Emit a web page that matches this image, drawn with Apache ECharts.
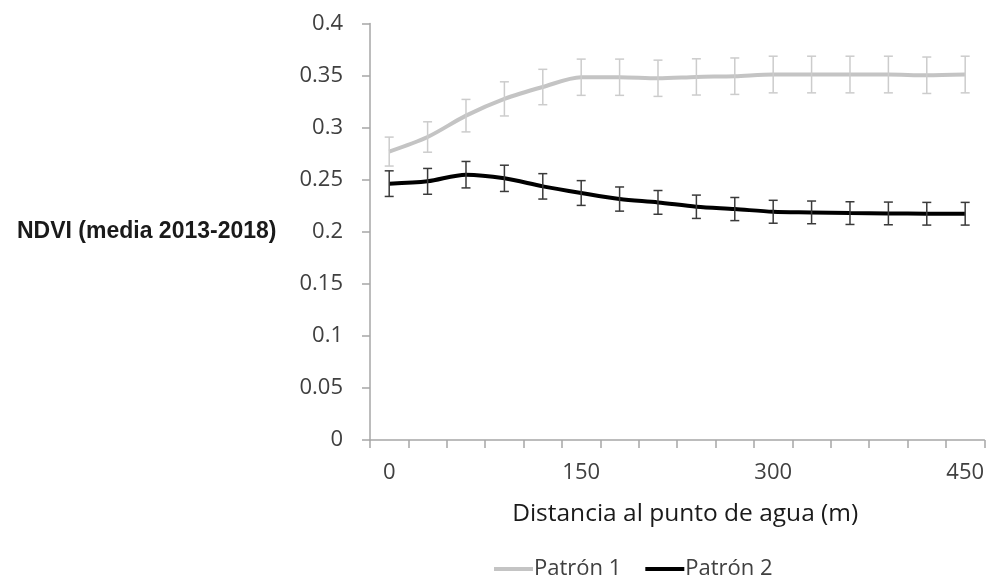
<!DOCTYPE html>
<html>
<head>
<meta charset="utf-8">
<script src="https://cdn.jsdelivr.net/npm/echarts@6/dist/echarts.min.js"></script>
<style>html,body{margin:0;padding:0;background:#fff;}#c{width:987px;height:578px;}</style>
</head>
<body>
<div id="c"></div>
<script>
var categories = ['0','30','60','90','120','150','180','210','240','270','300','330','360','390','420','450'];
var patron1 = [0.277,0.291,0.3115,0.3276,0.339,0.3484,0.3484,0.3474,0.3487,0.3494,0.351,0.351,0.351,0.351,0.3503,0.351];
var patron1Err = [0.0139,0.0146,0.0156,0.0164,0.0170,0.0174,0.0174,0.0174,0.0174,0.0175,0.0176,0.0176,0.0176,0.0176,0.0175,0.0176];
var patron2 = [0.2462,0.2484,0.2548,0.2513,0.2436,0.2372,0.2314,0.2282,0.2240,0.2218,0.2192,0.2186,0.2179,0.2176,0.2173,0.2173];
var patron2Err = [0.0123,0.0124,0.0127,0.0126,0.0122,0.0119,0.0116,0.0114,0.0112,0.0111,0.0110,0.0109,0.0109,0.0109,0.0109,0.0109];
var yTicks = {min:0, max:0.4, interval:0.05};

function errData(vals, errs){
  return vals.map(function(v,i){ return [i, v - errs[i], v + errs[i]]; });
}
function errRender(color){
  return function(params, api){
    var x = api.value(0);
    var lo = api.coord([x, api.value(1)]);
    var hi = api.coord([x, api.value(2)]);
    var hw = 4.5;
    var st = {stroke: color, lineWidth: 1.5};
    return {type:'group', children:[
      {type:'line', shape:{x1:lo[0],y1:lo[1],x2:hi[0],y2:hi[1]}, style:st},
      {type:'line', shape:{x1:lo[0]-hw,y1:lo[1],x2:lo[0]+hw,y2:lo[1]}, style:st},
      {type:'line', shape:{x1:hi[0]-hw,y1:hi[1],x2:hi[0]+hw,y2:hi[1]}, style:st}
    ]};
  };
}

var chart = echarts.init(document.getElementById('c'));
var font = 'Open Sans';
chart.setOption({
  animation:false,
  backgroundColor:'#fff',
  grid:{left:370, right:1, top:23.5, bottom:138, containLabel:false},
  legend:{
    left:489, top:553, itemWidth:39, itemHeight:4, itemGap:24, icon:'rect',
    textStyle:{fontFamily:font, fontSize:22, color:'#404040', padding:[0,0,0,-4]},
    data:[{name:'Patrón 1'},{name:'Patrón 2'}]
  },
  graphic:[{
    type:'text', x:17, y:232,
    style:{text:'NDVI (media 2013-2018)', font:'bold 23px "Liberation Sans", Arial, sans-serif', fill:'#1a1a1a', verticalAlign:'middle', align:'left'}
  }],
  xAxis:{
    type:'category', data:categories, boundaryGap:true,
    name:'Distancia al punto de agua (m)', nameLocation:'middle', nameGap:62,
    nameTextStyle:{fontFamily:font, fontSize:24.5, color:'#1a1a1a', padding:[0,0,0,16]},
    axisLine:{lineStyle:{color:'#a6a6a6', width:1.5}},
    axisTick:{show:true, interval:0, length:8, lineStyle:{color:'#a6a6a6', width:1.5}},
    axisLabel:{interval:4, margin:22, fontFamily:font, fontSize:22, color:'#404040'},
    splitLine:{show:false}
  },
  yAxis:{
    type:'value', min:yTicks.min, max:yTicks.max, interval:yTicks.interval,
    axisLine:{show:true, lineStyle:{color:'#a6a6a6', width:1.5}},
    axisTick:{show:true, length:8, lineStyle:{color:'#a6a6a6', width:1.5}},
    axisLabel:{margin:27, fontFamily:font, fontSize:22, color:'#404040',
      formatter:function(v){ return String(parseFloat(v.toFixed(2))); }},
    splitLine:{show:false}
  },
  series:[
    {name:'Patrón 1', type:'line', data:patron1, smooth:0.3, showSymbol:false, symbol:'none',
      lineStyle:{color:'#c4c4c4', width:4}, itemStyle:{color:'#c4c4c4'}, z:2},
    {name:'Patrón 2', type:'line', data:patron2, smooth:0.3, showSymbol:false, symbol:'none',
      lineStyle:{color:'#000000', width:4}, itemStyle:{color:'#000000'}, z:2},
    {name:'err1', type:'custom', data:errData(patron1, patron1Err), renderItem:errRender('#cccccc'), z:3, silent:true},
    {name:'err2', type:'custom', data:errData(patron2, patron2Err), renderItem:errRender('#3a3a3a'), z:3, silent:true}
  ]
});
</script>
</body>
</html>
